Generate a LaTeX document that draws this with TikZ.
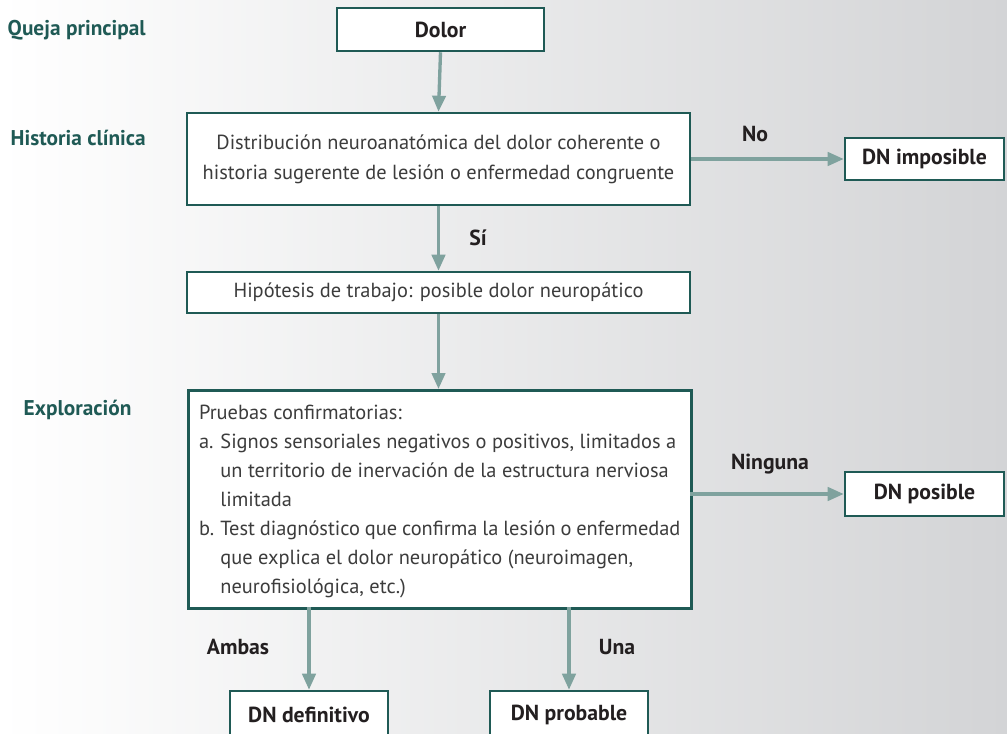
\documentclass[tikz,border=0pt]{standalone}
\usepackage{fontspec}
\setmainfont{PT Sans}
\usetikzlibrary{arrows.meta}
\definecolor{frame}{HTML}{1F5A55}
\definecolor{flow}{HTML}{7FA29E}
\definecolor{body}{HTML}{3C3C3C}
\definecolor{tag}{HTML}{231F20}
\definecolor{bgright}{HTML}{D3D4D6}
\newcommand{\itemlab}[1]{\makebox[16pt][l]{#1}}
\begin{document}
\begin{tikzpicture}[x=0.75pt,y=-0.75pt,
  box/.style={draw=frame,line width=1.9pt,fill=white,inner sep=0pt},
  boldbox/.style={box,font=\fontsize{16.3}{18}\selectfont\bfseries,text=tag},
  bodybox/.style={box,font=\fontsize{15.3}{22.5}\selectfont,text=body},
  flowarrow/.style={draw=flow,line width=2.5pt,-{Triangle[length=12pt,width=10pt]}},
  steplabel/.style={font=\fontsize{16}{18}\selectfont\bfseries,text=frame,anchor=west},
  edgelabel/.style={font=\fontsize{16.3}{18}\selectfont\bfseries,text=tag}]
  % page and background
  \useasboundingbox (0,0) rectangle (1007,734);
  \shade[left color=white,right color=bgright] (0,0) rectangle (1007,734);

  % boxes
  \node[boldbox,minimum width=207*0.75pt,minimum height=43*0.75pt] (dolor) at (440.5,29.5) {Dolor};
  \node[bodybox,minimum width=503*0.75pt,minimum height=92*0.75pt,align=center] (hist) at (438.5,159)
    {Distribución neuroanatómica del dolor coherente o\\historia sugerente de lesión o enfermedad congruente};
  \node[boldbox,minimum width=159*0.75pt,minimum height=42*0.75pt] (imposible) at (924.5,159) {DN imposible};
  \node[bodybox,minimum width=503*0.75pt,minimum height=41*0.75pt] (hipo) at (438.5,292.5)
    {Hipótesis de trabajo: posible dolor neuropático};
  \node[bodybox,minimum width=503*0.75pt,minimum height=218*0.75pt,anchor=north west] (pruebas) at (187,389)
    {\parbox[c][160pt][t]{361pt}{\baselineskip=21.75pt
     \rule{0pt}{20pt}Pruebas confirmatorias:\\
     \itemlab{a.}Signos sensoriales negativos o positivos, limitados a\\
     \itemlab{}un territorio de inervación de la estructura nerviosa\\
     \itemlab{}limitada\\
     \itemlab{b.}Test diagnóstico que confirma la lesión o enfermedad\\
     \itemlab{}que explica el dolor neuropático (neuroimagen,\\
     \itemlab{}neurofisiológica, etc.)}};
  \node[boldbox,minimum width=159*0.75pt,minimum height=44*0.75pt] (posible) at (924.5,494) {DN posible};
  \node[boldbox,minimum width=158*0.75pt,minimum height=48*0.75pt] (definitivo) at (309,715) {DN definitivo};
  \node[boldbox,minimum width=158*0.75pt,minimum height=48*0.75pt] (probable) at (569,715) {DN probable};

  % connectors
  \coordinate (pl) at (309,607);
  \coordinate (pr) at (569,607);
  \coordinate (pe) at (690,494);
  \draw[flowarrow] (dolor.south) -- (hist.north);
  \draw[flowarrow] (hist.east) -- (imposible.west);
  \draw[flowarrow] (hist.south) -- (hipo.north);
  \draw[flowarrow] (hipo.south) -- (pruebas.north -| hipo.south);
  \draw[flowarrow] (pe) -- (posible.west);
  \draw[flowarrow] (pl) -- (definitivo.north);
  \draw[flowarrow] (pr) -- (probable.north);

  % connector labels
  \node[edgelabel] (lno) at (755,134) {No};
  \node[edgelabel] (lsi) at (478,238) {Sí};
  \node[edgelabel] (lninguna) at (770,464) {Ninguna};
  \node[edgelabel] (lambas) at (238,647) {Ambas};
  \node[edgelabel] (luna) at (617,647) {Una};

  % stage labels
  \node[steplabel] (queja) at (3,30) {Queja principal};
  \node[steplabel] (clinica) at (6,138) {Historia clínica};
  \node[steplabel] (explora) at (19,410) {Exploración};
\end{tikzpicture}
\end{document}
